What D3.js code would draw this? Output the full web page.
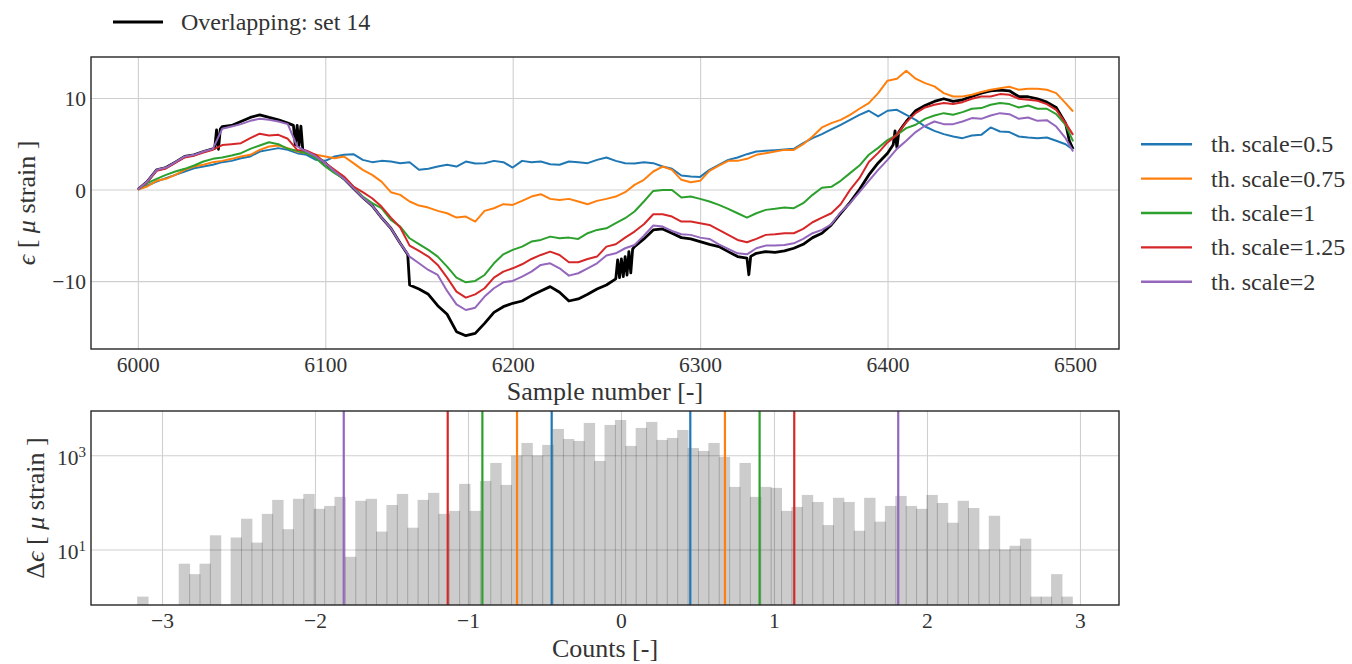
<!DOCTYPE html>
<html>
<head>
<meta charset="utf-8">
<script src="https://cdn.jsdelivr.net/npm/d3@7"></script>
<style>
  body { margin: 0; background: #fff; }
  svg { display: block; }
  text { font-family: "Liberation Serif", "DejaVu Serif", serif; fill: #333; }
</style>
</head>
<body>
<svg id="chart" width="1352" height="664"></svg>
<script>
// ---------- strain traces (sample 6000 … 6499, every 5th sample) ----------
const samples = d3.range(6000, 6500, 5).concat([6499]);

const seriesNames = ["th. scale=0.5", "th. scale=0.75", "th. scale=1", "th. scale=1.25", "th. scale=2"];
const seriesColors = ["#1f77b4", "#ff7f0e", "#2ca02c", "#d62728", "#9467bd"];
const thScales = [0.5, 0.75, 1, 1.25, 2];

const scale050 = [0, 0.44, 0.87, 1.24, 1.6, 1.97, 2.33, 2.51, 2.7, 2.99, 3.13, 3.42, 3.61, 4.15, 4.33, 4.52, 4.33, 3.97, 3.79, 3.24, 3.13, 3.61, 3.79, 3.86, 3.24, 2.99, 3.13,
  3.06, 2.88, 2.99, 2.15, 2.26, 2.51, 2.7, 2.51, 3.06, 2.84, 2.88, 3.13, 2.99, 2.4, 3.13, 2.99, 3.06, 2.77, 2.7, 3.06, 2.99, 2.88, 3.24, 3.5, 3.13, 2.88, 2.84,
  2.99, 2.88, 2.51, 2.26, 1.53, 1.42, 1.38, 2.15, 2.7, 3.24, 3.5, 3.86, 4.15, 4.23, 4.3, 4.37, 4.44, 5.06, 5.61, 6.05, 6.56, 7.07, 7.61, 8.16, 8.6, 7.98, 8.6,
  8.7, 8.16, 7.61, 6.88, 6.41, 6.05, 5.79, 5.61, 5.9, 5.97, 6.78, 6.34, 6.27, 5.79, 5.68, 5.61, 5.68, 5.32, 4.95, 4.34];

const scale075 = [0, 0.33, 0.95, 1.17, 1.6, 2.15, 2.51, 2.7, 2.99, 3.13, 3.35, 3.61, 3.79, 4.33, 4.7, 4.81, 4.52, 4.15, 3.97, 3.79, 3.61, 3.42, 3.61, 2.88, 2.15, 1.6, 0.87,
  -0.29, -0.58, -1.31, -1.75, -1.97, -2.33, -2.59, -3.06, -2.95, -3.5, -2.33, -2.04, -1.6, -1.68, -1.24, -0.77, -0.51, -1.02, -1.13, -1.02, -1.31, -1.6, -1.24, -1.02, -0.77, -0.29, 0.51,
  1.06, 1.97, 2.51, 2.15, 1.06, 0.8, 0.95, 2.04, 2.62, 3.13, 3.13, 3.35, 3.79, 3.97, 4.15, 4.33, 4.33, 4.95, 5.79, 6.78, 7.25, 7.61, 8.16, 8.82, 9.44, 10.53, 11.88,
  12.1, 12.97, 12.1, 11.62, 11.26, 10.53, 10.16, 10.16, 10.35, 10.64, 10.89, 11.07, 11.22, 10.89, 11.0, 11.0, 10.89, 10.53, 9.44, 8.52];

const scale100 = [0, 0.69, 1.17, 1.6, 1.97, 2.26, 2.62, 3.06, 3.35, 3.5, 3.72, 3.97, 4.44, 4.81, 5.17, 4.95, 4.44, 4.23, 3.97, 3.42, 2.51, 1.79, 1.17, 0.33, -0.77, -1.49, -2.04,
  -3.31, -4.05, -5.32, -5.97, -6.59, -7.32, -8.42, -9.62, -10.13, -9.98, -9.33, -8.05, -7.07, -6.59, -6.23, -5.68, -5.5, -5.14, -5.32, -5.25, -5.39, -4.77, -4.41, -4.23, -3.68, -3.13, -2.4,
  -1.31, -0.15, -0.04, -0.04, -0.87, -0.77, -1.02, -1.31, -1.68, -2.11, -2.59, -3.06, -2.59, -2.22, -2.11, -1.97, -2.04, -1.49, -0.58, 0.2, 0.3, 0.95, 1.79, 2.62, 3.8, 4.55, 5.4,
  5.97, 6.7, 7.07, 7.72, 8.09, 8.34, 8.16, 8.45, 8.82, 8.89, 9.25, 9.44, 9.33, 8.96, 9.18, 8.82, 8.82, 8.23, 7.07, 5.25];

const scale125 = [0, 0.8, 2.05, 2.3, 2.9, 3.5, 3.7, 4.05, 4.35, 4.85, 4.95, 5.06, 5.61, 6.1, 5.9, 5.97, 5.54, 4.33, 4.23, 3.79, 2.88, 2.15, 1.42, 0.33, -0.29, -0.95, -1.86,
  -3.06, -4.15, -6.12, -6.7, -7.32, -8.23, -9.62, -11.15, -11.8, -11.44, -10.78, -9.62, -8.96, -8.6, -8.16, -7.58, -7.14, -6.78, -7.14, -7.94, -7.94, -7.58, -7.32, -6.23, -5.97, -5.25, -4.59,
  -3.79, -2.7, -2.7, -2.95, -3.5, -3.5, -3.68, -3.86, -4.41, -4.95, -5.5, -5.76, -5.39, -4.95, -4.88, -4.77, -4.77, -4.3, -3.57, -3.06, -2.59, -1.6, -0.04, 1.24, 3.0, 4.0, 5.14,
  5.97, 7.36, 8.34, 8.96, 9.25, 9.44, 9.33, 9.54, 9.91, 10.16, 10.16, 10.42, 10.35, 9.91, 9.8, 9.69, 9.33, 8.7, 7.25, 5.97];

const scale200 = [0, 0.87, 2.15, 2.4, 2.99, 3.61, 3.79, 4.15, 4.44, 6.63, 6.88, 7.14, 7.5, 7.72, 7.61, 7.43, 7.14, 4.7, 4.15, 3.61, 2.88, 1.97, 1.17, 0.15, -0.87, -1.75, -3.06,
  -4.23, -5.87, -7.32, -8.05, -8.78, -9.33, -11.07, -12.53, -13.15, -12.9, -11.69, -10.78, -10.13, -9.98, -9.51, -8.96, -8.23, -8.05, -8.6, -9.4, -9.14, -8.6, -8.05, -7.21, -6.96, -6.41, -6.05,
  -5.03, -3.93, -4.04, -4.52, -4.88, -4.95, -5.25, -5.39, -5.98, -6.48, -6.96, -7.07, -6.41, -6.12, -6.12, -6.05, -5.87, -5.39, -4.77, -4.41, -3.79, -2.48, -1.49, -0.29, 0.95, 2.15, 3.24,
  4.44, 5.32, 6.27, 6.96, 7.43, 7.14, 7.14, 7.43, 7.8, 7.72, 8.09, 8.34, 8.23, 7.72, 7.87, 7.5, 7.57, 6.88, 5.61, 4.15];

const seriesValues = [scale050, scale075, scale100, scale125, scale200];

// overlapping reference set (own sample positions, denser around the jumps)
const overlapSamples = [6000, 6005, 6010, 6015, 6020, 6025, 6030, 6035, 6040, 6041, 6042, 6043, 6044, 6045, 6050, 6055, 6060, 6065, 6070, 6075, 6080,
  6083, 6084, 6085, 6086, 6087, 6088, 6090, 6095, 6100, 6105, 6110, 6115, 6120, 6125, 6130, 6135, 6140, 6144, 6145, 6150, 6155, 6160, 6165, 6170,
  6175, 6180, 6185, 6190, 6195, 6200, 6205, 6210, 6215, 6220, 6225, 6230, 6235, 6240, 6245, 6250, 6255, 6256, 6257, 6258, 6259, 6260, 6261, 6262,
  6263, 6264, 6265, 6270, 6275, 6280, 6285, 6290, 6295, 6300, 6305, 6310, 6315, 6320, 6325, 6326, 6327, 6330, 6335, 6340, 6345, 6350, 6355, 6360,
  6365, 6370, 6375, 6380, 6385, 6390, 6395, 6400, 6403, 6404, 6405, 6406, 6408, 6410, 6415, 6420, 6425, 6430, 6435, 6440, 6445, 6450, 6455, 6460,
  6465, 6470, 6475, 6480, 6485, 6490, 6495, 6497, 6499];
const overlapValues = [0, 0.87, 2.15, 2.4, 2.99, 3.61, 3.79, 4.15, 4.44, 4.5, 6.5, 4.4, 6.6, 6.88, 6.99, 7.43, 7.87, 8.16, 7.87, 7.61, 7.25,
  7.0, 4.88, 7.0, 4.8, 6.92, 4.33, 4.15, 3.61, 2.88, 1.97, 1.17, 0.15, -0.87, -1.75, -3.06, -4.23, -5.87, -7.1, -10.42, -10.86, -11.44, -12.68, -13.62, -15.52,
  -15.96, -15.7, -14.61, -13.41, -12.79, -12.42, -12.17, -11.58, -11.07, -10.6, -11.22, -12.17, -11.95, -11.44, -10.86, -10.42, -9.76, -7.69, -9.62, -7.58, -9.51, -7.32, -9.33, -6.78,
  -9.1, -6.5, -6.23, -5.39, -4.41, -4.3, -4.77, -5.25, -5.39, -5.68, -5.98, -6.23, -6.78, -7.32, -7.5, -9.3, -7.3, -6.96, -6.78, -6.85, -6.7, -6.41, -5.98, -5.25,
  -4.77, -3.86, -2.6, -1.4, 0.0, 1.6, 2.9, 3.97, 4.88, 6.41, 4.59, 6.27, 6.88, 7.43, 8.6, 9.18, 9.62, 9.91, 9.62, 9.8, 10.16, 10.53, 10.78, 10.86,
  10.78, 10.16, 10.13, 9.91, 9.54, 8.96, 7.25, 5.32, 4.41];
const overlapLabel = "Overlapping: set 14";

// ---------- histogram of strain increments ----------
const binStart = -3.159;
const binEnd = 2.950;
const binCounts = [1, 0, 0, 0, 5, 3, 5, 20, 0, 18,
  45, 14, 57, 113, 27, 119, 151, 73, 84, 131,
  7, 108, 119, 24, 88, 151, 29, 113, 159, 57,
  66, 247, 66, 286, 687, 235, 984, 1824, 984, 1656,
  3614, 2218, 2013, 4853, 759, 4398, 5612, 1578, 3800, 5095,
  2114, 2330, 3443, 1429, 1235, 1824, 923, 213, 687, 131,
  213, 203, 66, 80, 144, 102, 33, 125, 102, 25,
  125, 39, 84, 137, 84, 73, 144, 97, 37, 108,
  76, 10, 52, 10, 12, 17, 1, 1, 3, 1];
const baseThreshold = 0.906;

// ---------- tick values ----------
const topXTicks = [6000, 6100, 6200, 6300, 6400, 6500];
const topYTicks = [-10, 0, 10];
const botXTicks = [-3, -2, -1, 0, 1, 2, 3];
const botYTicks = [10, 1000];

// ---------- layout ----------
const svg = d3.select("#chart");
const boxTop = { l: 91, r: 1119, t: 57, b: 349 };
const boxBot = { l: 91, r: 1119, t: 411, b: 605 };
const gridColor = "#cfcfcf";
const frameColor = "#262626";
const serif = '"Liberation Serif", "DejaVu Serif", serif';
const tickFont = 21.5;

const x = d3.scaleLinear().domain([5975, 6523.5]).range([boxTop.l, boxTop.r]);
const y = d3.scaleLinear().domain([-17.41, 14.47]).range([boxTop.b, boxTop.t]);
const xh = d3.scaleLinear().domain([-3.464, 3.255]).range([boxBot.l, boxBot.r]);
const yh = d3.scaleLog().domain([0.664, 8690]).range([boxBot.b, boxBot.t]);

const defs = svg.append("defs");
defs.append("clipPath").attr("id", "clipTop").append("rect")
  .attr("x", boxTop.l).attr("y", boxTop.t).attr("width", boxTop.r - boxTop.l).attr("height", boxTop.b - boxTop.t);
defs.append("clipPath").attr("id", "clipBot").append("rect")
  .attr("x", boxBot.l).attr("y", boxBot.t).attr("width", boxBot.r - boxBot.l).attr("height", boxBot.b - boxBot.t);

function styleGrid(g) {
  g.select(".domain").remove();
  g.selectAll("line").attr("stroke", gridColor).attr("stroke-width", 1.1);
  g.selectAll("text").remove();
}
function styleLabels(g) {
  g.attr("font-family", serif).attr("font-size", tickFont);
  g.select(".domain").remove();
  g.selectAll("line").remove();
  g.selectAll("text").attr("font-size", tickFont).attr("fill", "#333")
    .style("font-family", serif);
}

// ===== top panel =====
svg.append("g").attr("transform", `translate(0,${boxTop.b})`)
  .call(d3.axisBottom(x).tickValues(topXTicks).tickSize(-(boxTop.b - boxTop.t))).call(styleGrid);
svg.append("g").attr("transform", `translate(${boxTop.l},0)`)
  .call(d3.axisLeft(y).tickValues(topYTicks).tickSize(-(boxTop.r - boxTop.l))).call(styleGrid);

const line = d3.line().x(d => x(d[0])).y(d => y(d[1]));
const plotTop = svg.append("g").attr("clip-path", "url(#clipTop)");

plotTop.append("path")
  .attr("d", line(overlapSamples.map((s, i) => [s, overlapValues[i]])))
  .attr("fill", "none").attr("stroke", "#000").attr("stroke-width", 2.8)
  .attr("stroke-linejoin", "round");

seriesValues.forEach((vals, k) => {
  plotTop.append("path")
    .attr("d", line(samples.map((s, i) => [s, vals[i]])))
    .attr("fill", "none").attr("stroke", seriesColors[k]).attr("stroke-width", 2)
    .attr("stroke-linejoin", "round");
});

svg.append("rect").attr("x", boxTop.l).attr("y", boxTop.t)
  .attr("width", boxTop.r - boxTop.l).attr("height", boxTop.b - boxTop.t)
  .attr("fill", "none").attr("stroke", frameColor).attr("stroke-width", 1.4);

svg.append("g").attr("transform", `translate(0,${boxTop.b})`)
  .call(d3.axisBottom(x).tickValues(topXTicks).tickSize(0).tickPadding(7.5).tickFormat(d3.format("d")))
  .call(styleLabels);
svg.append("g").attr("transform", `translate(${boxTop.l},0)`)
  .call(d3.axisLeft(y).tickValues(topYTicks).tickSize(0).tickPadding(5).tickFormat(d3.format("d")))
  .call(styleLabels)
  .call(g => g.selectAll(".tick text").attr("dy", "0.36em"));

svg.append("text").attr("x", (boxTop.l + boxTop.r) / 2).attr("y", 400)
  .attr("text-anchor", "middle").attr("font-size", 26).text("Sample number [-]");

const yl1 = svg.append("text").attr("transform", `translate(35,${(boxTop.t + boxTop.b) / 2}) rotate(-90)`)
  .attr("text-anchor", "middle").attr("font-size", 26);
yl1.append("tspan").attr("font-style", "italic").text("ϵ");
yl1.append("tspan").text(" [ ");
yl1.append("tspan").attr("font-style", "italic").text("μ");
yl1.append("tspan").text(" strain ]");

// ===== bottom panel =====
svg.append("g").attr("transform", `translate(0,${boxBot.b})`)
  .call(d3.axisBottom(xh).tickValues(botXTicks).tickSize(-(boxBot.b - boxBot.t))).call(styleGrid);
svg.append("g").attr("transform", `translate(${boxBot.l},0)`)
  .call(d3.axisLeft(yh).tickValues(botYTicks).tickSize(-(boxBot.r - boxBot.l))).call(styleGrid);

const binWidth = (binEnd - binStart) / binCounts.length;
const bins = binCounts.map((c, i) => ({ x0: binStart + i * binWidth, x1: binStart + (i + 1) * binWidth, c }))
  .filter(b => b.c > 0);

const plotBot = svg.append("g").attr("clip-path", "url(#clipBot)");
plotBot.selectAll("rect.bar").data(bins).join("rect")
  .attr("class", "bar")
  .attr("x", d => xh(d.x0) - 0.5)
  .attr("width", d => xh(d.x1) - xh(d.x0) + 1)
  .attr("y", d => yh(d.c))
  .attr("height", d => boxBot.b - yh(d.c))
  .attr("fill", "#000").attr("fill-opacity", 0.2);

thScales.forEach((s, k) => {
  [-1, 1].forEach(sign => {
    const xv = xh(sign * s * baseThreshold);
    plotBot.append("line")
      .attr("x1", xv).attr("x2", xv).attr("y1", boxBot.t).attr("y2", boxBot.b)
      .attr("stroke", seriesColors[k]).attr("stroke-width", 2.2);
  });
});

svg.append("rect").attr("x", boxBot.l).attr("y", boxBot.t)
  .attr("width", boxBot.r - boxBot.l).attr("height", boxBot.b - boxBot.t)
  .attr("fill", "none").attr("stroke", frameColor).attr("stroke-width", 1.4);

svg.append("g").attr("transform", `translate(0,${boxBot.b})`)
  .call(d3.axisBottom(xh).tickValues(botXTicks).tickSize(0).tickPadding(7.5).tickFormat(d3.format("d")))
  .call(styleLabels);

const yAxisBot = svg.append("g").attr("transform", `translate(${boxBot.l},0)`)
  .call(d3.axisLeft(yh).tickValues(botYTicks).tickSize(0).tickPadding(5).tickFormat(() => ""))
  .call(styleLabels);
yAxisBot.selectAll(".tick text").each(function (d) {
  const t = d3.select(this).attr("dy", "0.44em");
  t.text("10");
  t.append("tspan").attr("dy", "-0.55em").attr("font-size", 15).text(Math.round(Math.log10(d)));
});

svg.append("text").attr("x", (boxBot.l + boxBot.r) / 2).attr("y", 657)
  .attr("text-anchor", "middle").attr("font-size", 26).text("Counts [-]");

const yl2 = svg.append("text").attr("transform", `translate(44,${(boxBot.t + boxBot.b) / 2}) rotate(-90)`)
  .attr("text-anchor", "middle").attr("font-size", 26);
yl2.append("tspan").text("Δ");
yl2.append("tspan").attr("font-style", "italic").text("ϵ");
yl2.append("tspan").text(" [ ");
yl2.append("tspan").attr("font-style", "italic").text("μ");
yl2.append("tspan").text(" strain ]");

// ===== legends =====
svg.append("line").attr("x1", 113).attr("x2", 163).attr("y1", 22).attr("y2", 22)
  .attr("stroke", "#000").attr("stroke-width", 3);
svg.append("text").attr("x", 181).attr("y", 30).attr("font-size", 24).text(overlapLabel);

const legY = d3.scaleLinear().domain([0, seriesNames.length - 1]).range([144.3, 281.7]);
seriesNames.forEach((name, k) => {
  const yy = legY(k);
  svg.append("line").attr("x1", 1141).attr("x2", 1192).attr("y1", yy).attr("y2", yy)
    .attr("stroke", seriesColors[k]).attr("stroke-width", 2.4);
  svg.append("text").attr("x", 1211).attr("y", yy + 8).attr("font-size", 24).text(name);
});
</script>
</body>
</html>
